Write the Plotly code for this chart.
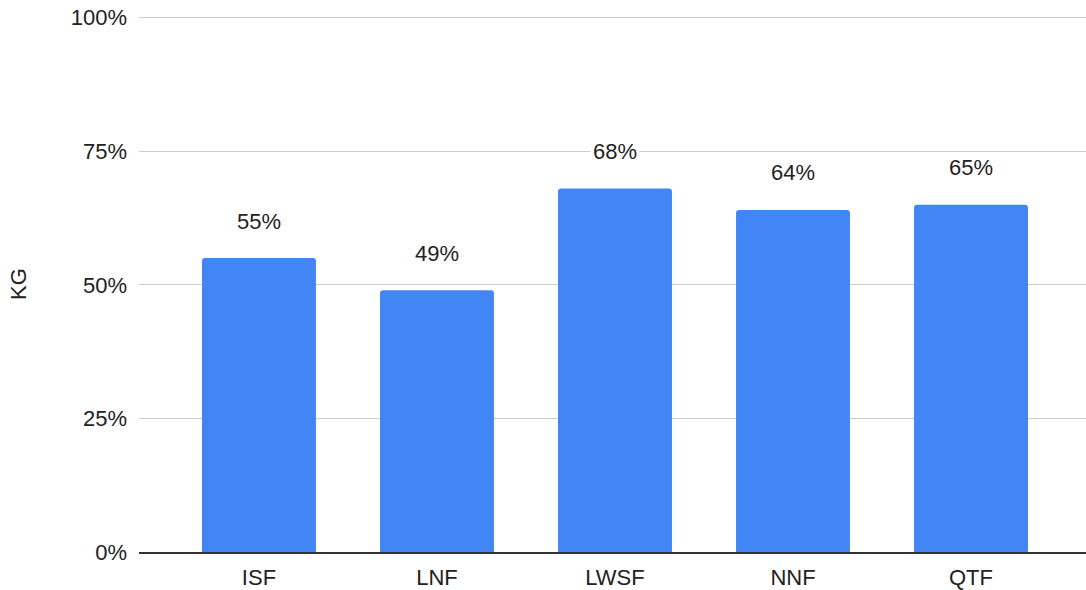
import plotly.graph_objects as go

categories = ["ISF", "LNF", "LWSF", "NNF", "QTF"]
values = [0.55, 0.49, 0.68, 0.64, 0.65]
y_ticks = [0, 0.25, 0.5, 0.75, 1.0]
y_tick_labels = ["0%", "25%", "50%", "75%", "100%"]
y_title = "KG"

fig = go.Figure()
fig.add_trace(go.Bar(
    x=categories, y=values,
    marker=dict(color="#4285F4", cornerradius=3, line=dict(width=0)),
    hoverinfo="skip",
))

for c, v in zip(categories, values):
    fig.add_annotation(
        x=c, y=v, xref="x", yref="y",
        text=f"{round(v*100)}%", showarrow=False,
        yshift=37, bgcolor="white", borderpad=2,
        font=dict(family="Liberation Sans, Arial", size=22, color="#222222"),
    )

fig.update_layout(
    width=1086, height=590,
    margin=dict(l=139, r=0, t=16, b=38),
    paper_bgcolor="white", plot_bgcolor="white",
    showlegend=False,
    bargap=0.36,
    font=dict(family="Liberation Sans, Arial", size=22, color="#222222"),
)
fig.update_xaxes(
    range=[-0.674, 4.646],
    showgrid=False, showline=True, linecolor="#333333", linewidth=1.5,
    ticks="", ticklabelstandoff=5,
    tickfont=dict(family="Liberation Sans, Arial", size=22, color="#222222"),
)
fig.update_yaxes(
    range=[0, 1.003], tickvals=y_ticks, ticktext=y_tick_labels,
    showgrid=True, gridcolor="#cccccc", gridwidth=1.2,
    zeroline=False, showline=False, ticks="", ticklabelstandoff=11,
    tickfont=dict(family="Liberation Sans, Arial", size=22, color="#222222"),
    title=dict(text=y_title, standoff=38,
               font=dict(family="Liberation Sans, Arial", size=22, color="#222222")),
    automargin=False,
)

fig.write_html("out.html")
